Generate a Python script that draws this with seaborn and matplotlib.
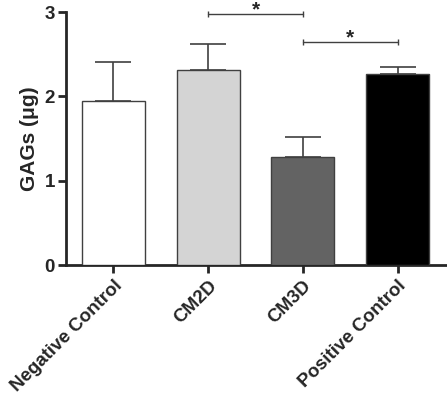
import matplotlib
matplotlib.use("Agg")
import matplotlib.pyplot as plt
import seaborn as sns
import pandas as pd

# Values
groups = ["Negative Control", "CM2D", "CM3D", "Positive Control"]
means = [1.94, 2.31, 1.285, 2.26]
errors = [0.47, 0.31, 0.235, 0.085]
bar_colors = ["#ffffff", "#d4d4d4", "#636363", "#000000"]

# significance brackets: (left group, right group, height)
brackets = [(1, 2, 2.98), (2, 3, 2.645)]

sns.set_style("ticks")
plt.rcParams['font.family'] = ['Liberation Sans', 'DejaVu Sans']
plt.rcParams['font.weight'] = 'bold'

df = pd.DataFrame({"group": groups, "mean": means})

fig = plt.figure(figsize=(4.47, 3.94), dpi=100)
ax = fig.add_axes([66 / 447, 129 / 394, 381 / 447, 253 / 394])

sns.barplot(data=df, x="group", y="mean", hue="group", palette=bar_colors,
            legend=False, width=0.665, edgecolor="#404040", linewidth=1.0,
            ax=ax, zorder=3)

# upward-only error bars
ax.errorbar(range(len(groups)), means, yerr=[[0] * len(groups), errors],
            fmt="none", ecolor="#404040", elinewidth=1.2, capsize=13,
            capthick=1.2, zorder=2)

# significance brackets
for left, right, h in brackets:
    ax.plot([left, right], [h, h], color="#404040", lw=1.0, clip_on=False,
            marker="|", markersize=5, markeredgewidth=1.0)
    ax.text((left + right) / 2, h - 0.02, "*", ha="center", va="baseline",
            fontsize=15, fontweight="bold", clip_on=False)

ax.set_ylim(0, 3)
ax.set_xlim(-0.5, 3.52)
ax.set_yticks([0, 1, 2, 3])
ax.set_ylabel("GAGs (\u03bcg)", fontsize=15, fontweight="bold", labelpad=4)
ax.set_xlabel("")
ax.set_xticks(range(len(groups)))
ax.set_xticklabels(groups, rotation=45, ha="right", rotation_mode="anchor",
                   fontsize=13.5, fontweight="bold")
for lbl in ax.get_yticklabels():
    lbl.set_fontsize(13.5)
    lbl.set_fontweight("bold")

for side in ["top", "right"]:
    ax.spines[side].set_visible(False)
for side in ["left", "bottom"]:
    ax.spines[side].set_linewidth(2)
ax.tick_params(axis="both", width=2, length=6, direction="out", pad=2)
ax.tick_params(axis="x", pad=3)

fig.savefig("out.png", dpi=100)
